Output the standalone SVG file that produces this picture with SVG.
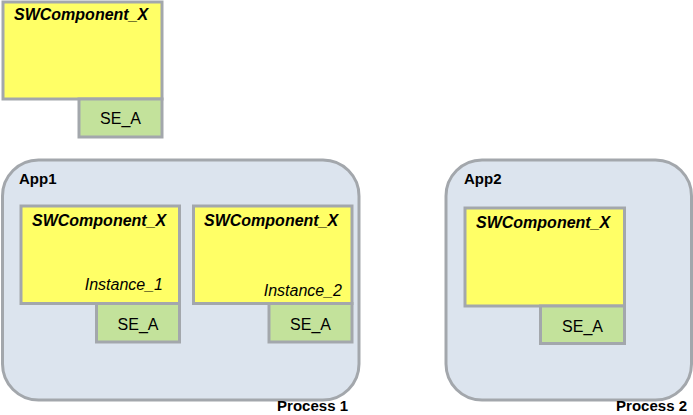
<svg xmlns="http://www.w3.org/2000/svg" width="693" height="415" viewBox="0 0 693 415">
<style>
.app{fill:#DCE4EE;stroke:#A3A7AC;stroke-width:3}
.comp{fill:#FFFF66;stroke:#A3A7AC;stroke-width:3}
.se{fill:#C3E29B;stroke:#A3A7AC;stroke-width:3}
.t{font-family:"Liberation Sans",Arial,sans-serif;fill:#000}
.title{font-size:16px;font-weight:bold;font-style:italic}
.lbl{font-size:15px;font-weight:bold}
.inst{font-size:16px;font-style:italic;text-anchor:end}
.sel{font-size:16px;text-anchor:middle}
</style>
<rect width="693" height="415" fill="#fff"/>
<g id="connectors"></g>
<g id="comp_top">
<rect class="comp" x="3" y="2" width="159" height="97"/>
<text class="t title" x="14" y="20">SWComponent_X</text>
</g>
<g id="se_top">
<rect class="se" x="79" y="99" width="83" height="38"/>
<text class="t sel" x="120.5" y="124">SE_A</text>
</g>
<g id="app1">
<rect class="app" x="2.5" y="160" width="356.5" height="240" rx="36" ry="36"/>
<text class="t lbl" x="19" y="184">App1</text>
<text class="t lbl" x="348" y="411" text-anchor="end">Process 1</text>
</g>
<g id="comp1">
<rect class="comp" x="21" y="206" width="158.5" height="97.5"/>
<text class="t title" x="32" y="226">SWComponent_X</text>
<text class="t inst" x="163" y="290">Instance_1</text>
</g>
<g id="se1">
<rect class="se" x="96.5" y="303.5" width="83" height="38.5"/>
<text class="t sel" x="138" y="330">SE_A</text>
</g>
<g id="comp2">
<rect class="comp" x="193.5" y="206" width="158.5" height="97.5"/>
<text class="t title" x="204" y="226">SWComponent_X</text>
<text class="t inst" x="342" y="296">Instance_2</text>
</g>
<g id="se2">
<rect class="se" x="269" y="303.5" width="83" height="38.5"/>
<text class="t sel" x="310.5" y="330">SE_A</text>
</g>
<g id="app2">
<rect class="app" x="446" y="160" width="245.5" height="240" rx="36" ry="36"/>
<text class="t lbl" x="464" y="184">App2</text>
<text class="t lbl" x="687" y="411" text-anchor="end">Process 2</text>
</g>
<g id="comp3">
<rect class="comp" x="465" y="208" width="159.5" height="98"/>
<text class="t title" x="476" y="228">SWComponent_X</text>
</g>
<g id="se3">
<rect class="se" x="540.5" y="306" width="84" height="37.5"/>
<text class="t sel" x="582.5" y="332">SE_A</text>
</g>
</svg>
